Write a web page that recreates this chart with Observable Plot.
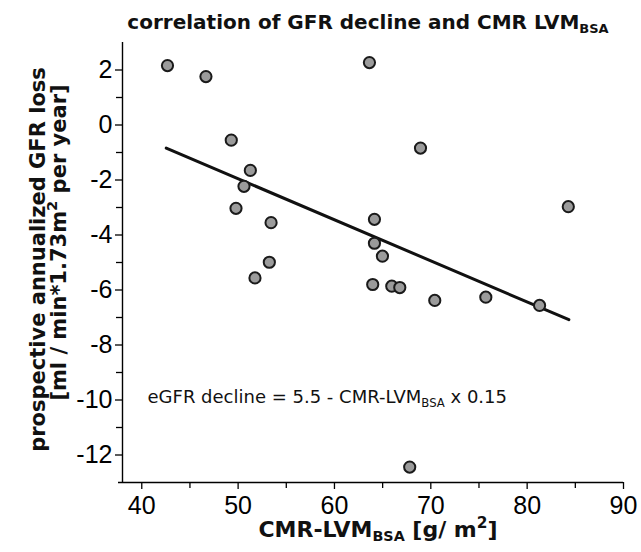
<!DOCTYPE html>
<html>
<head>
<meta charset="utf-8">
<script src="https://cdn.jsdelivr.net/npm/d3@7"></script>
<script src="https://cdn.jsdelivr.net/npm/@observablehq/plot@0.6"></script>
<style>
  html, body { margin: 0; padding: 0; background: #ffffff; }
  #chart svg { display: block; }
</style>
</head>
<body>
<div id="chart"></div>
<script>
// ---- data ----
const lvm = [42.67, 46.66, 63.63, 49.29, 51.27, 50.61, 49.78, 53.42, 64.15, 64.15, 64.98,
             53.24, 51.75, 63.97, 65.95, 66.78, 68.93, 84.27, 70.41, 75.71, 81.29, 67.81];
const gfr = [2.16, 1.76, 2.27, -0.55, -1.65, -2.23, -3.03, -3.55, -3.43, -4.30, -4.77,
             -4.99, -5.56, -5.80, -5.86, -5.91, -0.84, -2.97, -6.38, -6.26, -6.56, -12.44];
const fitLvm = [42.54, 84.33];
const fitGfr = [-0.84, -7.08];

const xDomain = [38, 90];
const yDomain = [-13, 3];
const xMajorTicks = [40, 50, 60, 70, 80, 90];
const xMinorTicks = [45, 55, 65, 75, 85];
const yMajorTicks = [-12, -10, -8, -6, -4, -2, 0, 2];
const yMinorTicks = [-11, -9, -7, -5, -3, -1, 1];

const titleText = "correlation of GFR decline and CMR LVM_{BSA}";
const xLabel = "CMR-LVM_{BSA} [g/ m^{2}]";
const yLabel1 = "prospective annualized GFR loss";
const yLabel2 = "[ml / min*1.73m^{2} per year]";
const equation = "eGFR decline = 5.5 - CMR-LVM_{BSA} x 0.15";

const idx = d3.range(lvm.length);
const fitIdx = d3.range(fitLvm.length);
const boldFont = "DejaVu Sans, Verdana, sans-serif";
const plainNum = d => String(d);

const chart = Plot.plot({
  width: 641,
  height: 552,
  marginTop: 42,
  marginBottom: 70,
  marginLeft: 122,
  marginRight: 18,
  style: { fontFamily: "Liberation Sans, Arial, sans-serif", fontSize: "25px", color: "#000", background: "#fff" },
  x: { domain: xDomain, label: null },
  y: { domain: yDomain, label: null },
  marks: [
    Plot.axisX({ ticks: xMajorTicks, tickFormat: plainNum, tickSize: 7, tickPadding: 7, strokeWidth: 1.3, fontSize: 25, label: null }),
    Plot.axisX({ ticks: xMinorTicks, tickSize: 6, text: null, strokeWidth: 1.3, label: null }),
    Plot.axisY({ ticks: yMajorTicks, tickFormat: plainNum, tickSize: 7, tickPadding: 3, strokeWidth: 1.3, fontSize: 25, label: null }),
    Plot.axisY({ ticks: yMinorTicks, tickSize: 6, text: null, strokeWidth: 1.3, label: null }),
    Plot.ruleX([xDomain[0]], { stroke: "#000", strokeWidth: 1.4 }),
    Plot.ruleY([yDomain[0]], { stroke: "#000", strokeWidth: 1.4, insetLeft: -4 }),
    Plot.line(fitIdx, { x: i => fitLvm[i], y: i => fitGfr[i], stroke: "#111", strokeWidth: 3 }),
    Plot.dot(idx, { x: i => lvm[i], y: i => gfr[i], r: 5.6, fill: "#9b9b9b", stroke: "#1a1a1a", strokeWidth: 2 }),
    Plot.text([equation], { frameAnchor: "bottom-left", textAnchor: "start", lineAnchor: "middle",
      dx: 25, dy: -85, fontSize: 18, fontFamily: boldFont, fill: "#111" }),
    Plot.text([titleText], { frameAnchor: "top", textAnchor: "middle", lineAnchor: "middle", dx: -5, dy: -20,
      fontSize: 20, fontWeight: "bold", fontFamily: boldFont, fill: "#111" }),
    Plot.text([xLabel], { frameAnchor: "bottom", textAnchor: "middle", lineAnchor: "middle", dx: 5, dy: 47,
      fontSize: 22, fontWeight: "bold", fontFamily: boldFont, fill: "#111" }),
    Plot.text([yLabel1], { frameAnchor: "left", rotate: -90, textAnchor: "middle", lineAnchor: "middle", dx: -84, dy: -3,
      fontSize: 21, fontWeight: "bold", fontFamily: boldFont, fill: "#111" }),
    Plot.text([yLabel2], { frameAnchor: "left", rotate: -90, textAnchor: "middle", lineAnchor: "middle", dx: -63, dy: -20,
      fontSize: 21, fontWeight: "bold", fontFamily: boldFont, fill: "#111" })
  ]
});

// turn _{...} into subscripts and ^{...} into superscripts (text stays real text)
function richText(root) {
  root.querySelectorAll("text, tspan").forEach(el => {
    if (el.children.length) return;
    const s = el.textContent;
    if (!/[_^]\{/.test(s)) return;
    el.textContent = "";
    const re = /([_^])\{([^}]*)\}/g;
    let last = 0, m;
    while ((m = re.exec(s))) {
      if (m.index > last) el.appendChild(document.createTextNode(s.slice(last, m.index)));
      const t = document.createElementNS("http://www.w3.org/2000/svg", "tspan");
      if (m[1] === "_") {
        t.setAttribute("font-size", "65%");
        t.setAttribute("baseline-shift", "-0.3em");
      } else {
        t.setAttribute("font-size", "70%");
        t.setAttribute("baseline-shift", "0.6em");
      }
      t.textContent = m[2];
      el.appendChild(t);
      last = re.lastIndex;
    }
    if (last < s.length) el.appendChild(document.createTextNode(s.slice(last)));
  });
}
richText(chart);
document.getElementById("chart").appendChild(chart);
</script>
</body>
</html>
